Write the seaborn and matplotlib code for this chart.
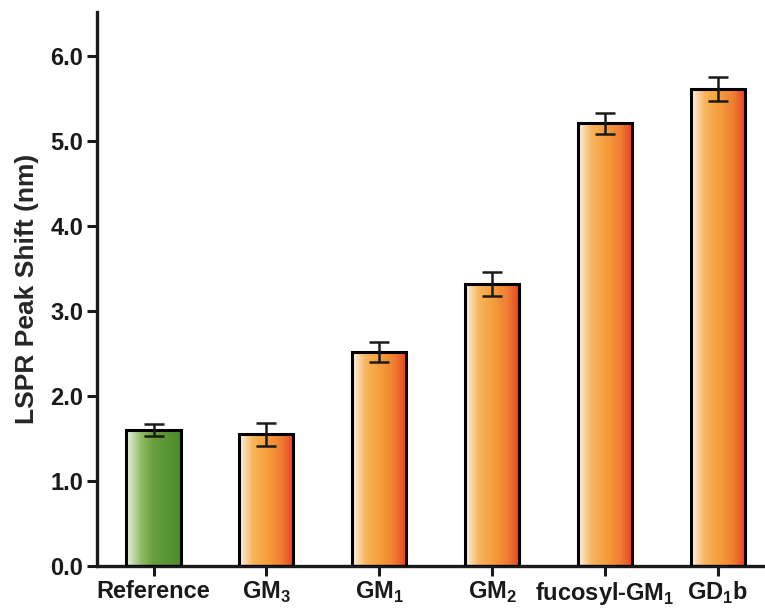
import numpy as np
import pandas as pd
import matplotlib
matplotlib.use("Agg")
import matplotlib.pyplot as plt
from matplotlib.colors import LinearSegmentedColormap
from matplotlib.ticker import FormatStrFormatter
import seaborn as sns

# ── Datos ───────────────────────────────────────────────
categorias = ["Reference", "GM$_\\mathbf{3}$", "GM$_\\mathbf{1}$", "GM$_\\mathbf{2}$",
              "fucosyl-GM$_\\mathbf{1}$", "GD$_\\mathbf{1}$b"]
valores = [1.60, 1.55, 2.52, 3.32, 5.21, 5.62]
errores = [0.07, 0.14, 0.12, 0.14, 0.12, 0.14]
grupos  = ["ref", "gang", "gang", "gang", "gang", "gang"]

df = pd.DataFrame({"cat": categorias, "val": valores, "err": errores, "grupo": grupos})

# ── Estilo ──────────────────────────────────────────────
sns.set_style("ticks")
plt.rcParams["font.family"] = ["Liberation Sans", "DejaVu Sans"]
plt.rcParams["mathtext.fontset"] = "custom"
plt.rcParams["mathtext.rm"] = "Liberation Sans:bold"
plt.rcParams["mathtext.bf"] = "Liberation Sans:bold"

cmap_naranja = LinearSegmentedColormap.from_list(
    "naranja", [(0, "#fff4e4"), (0.25, "#f8b45c"), (0.5, "#f6a03c"),
                (0.78, "#f07c32"), (1, "#e3412a")])
cmap_verde = LinearSegmentedColormap.from_list(
    "verde", [(0, "#eef4e6"), (0.28, "#8fba64"), (0.5, "#68a03c"),
              (1, "#4b8a2c")])

fig = plt.figure(figsize=(7.65, 6.1), dpi=100)
ax = fig.add_axes([0.127, 0.072, 0.873, 0.908])

sns.barplot(data=df, x="cat", y="val", ax=ax, width=0.48,
            color="white", edgecolor="black", linewidth=2.2, zorder=3)

# ── Degradado dentro de cada barra ──────────────────────
grad = np.linspace(0, 1, 256).reshape(1, -1)
for patch, g in zip(ax.patches, df["grupo"]):
    x, y = patch.get_x(), patch.get_y()
    w, h = patch.get_width(), patch.get_height()
    cmap = cmap_verde if g == "ref" else cmap_naranja
    im = ax.imshow(grad, extent=[x, x + w, y, y + h], aspect="auto",
                   cmap=cmap, zorder=2, interpolation="bicubic")
    im.set_clip_path(patch)
    patch.set_facecolor("none")

# ── Barras de error ─────────────────────────────────────
ax.errorbar(np.arange(len(valores)), valores, yerr=errores, fmt="none",
            ecolor="#1a1a1a", elinewidth=1.8, capsize=7, capthick=1.8, zorder=4)

ax.set_xlim(-0.5, 5.42)
ax.set_ylim(0, 6.52)
ax.set_yticks(np.arange(0, 6.1, 1.0))
ax.yaxis.set_major_formatter(FormatStrFormatter("%.1f"))

ax.set_xlabel("")
ax.set_ylabel("LSPR Peak Shift (nm)", fontsize=19, fontweight="bold", labelpad=8)
ax.tick_params(axis="both", direction="out", length=7, width=2.2,
               labelsize=17, colors="#1a1a1a", pad=3)
for lab in ax.get_xticklabels() + ax.get_yticklabels():
    lab.set_fontweight("bold")

for side in ["top", "right"]:
    ax.spines[side].set_visible(False)
for side in ["left", "bottom"]:
    ax.spines[side].set_linewidth(2.4)
    ax.spines[side].set_color("#1a1a1a")

fig.savefig("out.png", dpi=100)
